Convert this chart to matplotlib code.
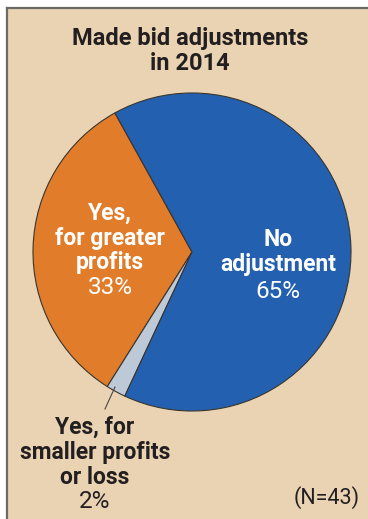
import matplotlib.pyplot as plt
from matplotlib.patches import Rectangle

# survey shares (percent)
labels = ['Yes, for greater profits', 'Yes, for smaller profits or loss', 'No adjustment']
shares = [33, 2, 65]
colors = ['#E07C2A', '#BDC9D6', '#2360AF']
n_total = 43

plt.rcParams['font.family'] = ['Roboto', 'DejaVu Sans']

W, H = 368, 519
fig = plt.figure(figsize=(W / 100, H / 100), dpi=100)
ax = fig.add_axes([0, 0, 1, 1])

# panel background with a dark rule on the top and left
ax.add_patch(Rectangle((7, 0), W - 7, H - 8, facecolor='#E9D3B2', edgecolor='none', zorder=0))
ax.plot([7, 7], [0, H - 8], color='#6d6a66', lw=1.6, zorder=1)
ax.plot([7, W], [H - 8, H - 8], color='#6d6a66', lw=1.6, zorder=1)

cx, cy, r = 192, H - 252, 159
ax.pie(shares, colors=colors, startangle=119, counterclock=True,
       center=(cx, cy), radius=r, frame=True,
       wedgeprops=dict(edgecolor='#3a3530', linewidth=0.8))

ax.set_xlim(0, W)
ax.set_ylim(0, H)
ax.set_aspect('auto')
ax.axis('off')

def y(py):
    return H - py

dark = '#231f20'
bold_size = 16.5
pct_size = 17.5

ax.text(190, y(38), 'Made bid adjustments', ha='center', va='center',
        fontsize=17, fontweight='bold', color=dark)
ax.text(190, y(63), 'in 2014', ha='center', va='center',
        fontsize=17, fontweight='bold', color=dark)

# orange wedge label
for i, line in enumerate(['Yes,', 'for greater', 'profits']):
    ax.text(110, y(213 + 25 * i), line, ha='center', va='center',
            fontsize=bold_size, fontweight='bold', color='white')
ax.text(110, y(288), f'{shares[0]}%', ha='center', va='center',
        fontsize=pct_size, color='white')

# blue wedge label
for i, line in enumerate(['No', 'adjustment']):
    ax.text(278, y(240 + 25 * i), line, ha='center', va='center',
            fontsize=bold_size, fontweight='bold', color='white')
ax.text(278, y(291), f'{shares[2]}%', ha='center', va='center',
        fontsize=pct_size, color='white')

# small slice label with leader line
ax.plot([115, 105], [y(387), y(409)], color='#4a4540', lw=0.8)
for i, line in enumerate(['Yes, for', 'smaller profits', 'or loss']):
    ax.text(95, y(427 + 25 * i), line, ha='center', va='center',
            fontsize=bold_size, fontweight='bold', color=dark)
ax.text(95, y(502), f'{shares[1]}%', ha='center', va='center',
        fontsize=pct_size, color=dark)

ax.text(360, y(498), f'(N={n_total})', ha='right', va='center',
        fontsize=15.5, color=dark)

fig.savefig('out.png', dpi=100)
